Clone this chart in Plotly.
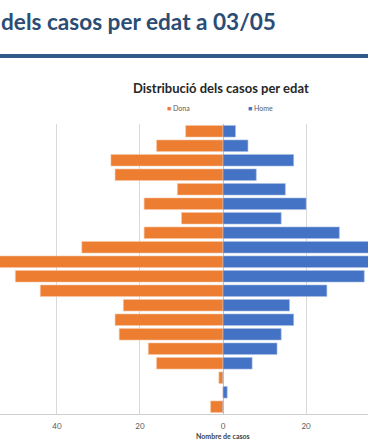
import plotly.graph_objects as go

# Age groups (top of chart = oldest)
age_groups = ["95+", "90-94", "85-89", "80-84", "75-79", "70-74", "65-69", "60-64",
              "55-59", "50-54", "45-49", "40-44", "35-39", "30-34", "25-29", "20-24",
              "15-19", "10-14", "5-9", "0-4"]
dona = [9, 16, 27, 26, 11, 19, 10, 19, 34, 56, 50, 44, 24, 26, 25, 18, 16, 1, 0, 3]
home = [3, 6, 17, 8, 15, 20, 14, 28, 38, 40, 34, 25, 16, 17, 14, 13, 7, 0, 1, 0]
tick_vals = [-60, -40, -20, 0, 20, 40]
tick_text = ["60", "40", "20", "0", "20", "40"]

W, H = 368, 445
TOP, BOT = 124, 414  # plot area in px


def py(px):
    return (BOT - px) / (BOT - TOP)


def pxx(px):
    return px / W


fig = go.Figure()
fig.add_trace(go.Bar(y=age_groups, x=[-v for v in dona], orientation="h", name="Dona",
                     marker=dict(color="#ED7D31", line=dict(color="#f6c9a8", width=0.6))))
fig.add_trace(go.Bar(y=age_groups, x=home, orientation="h", name="Home",
                     marker=dict(color="#4472C4", line=dict(color="#a9bfe6", width=0.6))))

fig.update_layout(
    width=W, height=H,
    margin=dict(l=0, r=0, t=TOP, b=H - BOT, pad=0),
    paper_bgcolor="white", plot_bgcolor="white",
    barmode="relative", bargap=0.2,
    showlegend=False,
    font=dict(family="Lato, 'Open Sans', sans-serif"),
)
fig.update_xaxes(range=[-53.7, 34.9], tickvals=tick_vals, ticktext=tick_text,
                 showgrid=True, gridcolor="#d9d9d9", gridwidth=1,
                 zeroline=True, zerolinecolor="#bfbfbf", zerolinewidth=1,
                 showline=True, linecolor="#d0d0d0", linewidth=1, mirror=False,
                 ticks="", ticklabelstandoff=4,
                 tickfont=dict(size=8, color="#595959"), fixedrange=True)
fig.update_yaxes(categoryorder="array", categoryarray=age_groups, autorange="reversed",
                 showticklabels=False, showgrid=False, zeroline=False, ticks="")

# Slide title (cropped at left) and rule
fig.add_annotation(text="<b>dels casos per edat a 03/05</b>", xref="paper", yref="paper",
                   x=pxx(-1), y=py(22), xanchor="left", yanchor="middle", showarrow=False,
                   font=dict(size=22.6, color="#2b4c74", family="Lato, sans-serif"))
fig.add_shape(type="line", xref="paper", yref="paper", x0=0, x1=1, y0=py(56), y1=py(56),
              line=dict(color="#2e5b8a", width=4))

# Chart title
fig.add_annotation(text="<b>Distribució dels casos per edat</b>", xref="paper", yref="paper",
                   x=pxx(221), y=py(88), xanchor="center", yanchor="middle", showarrow=False,
                   font=dict(size=13, color="#262626"))
# Legend
fig.add_annotation(text="<span style='color:#ED7D31'>■</span> Dona", xref="paper", yref="paper",
                   x=pxx(165), y=py(108), xanchor="left", yanchor="middle", showarrow=False,
                   font=dict(size=7, color="#595959"))
fig.add_annotation(text="<span style='color:#4472C4'>■</span> Home", xref="paper", yref="paper",
                   x=pxx(246), y=py(108), xanchor="left", yanchor="middle", showarrow=False,
                   font=dict(size=7, color="#595959"))
# Axis title
fig.add_annotation(text="<b>Nombre de casos</b>", xref="paper", yref="paper",
                   x=pxx(223), y=py(436), xanchor="center", yanchor="middle", showarrow=False,
                   font=dict(size=7, color="#404040"))

fig.write_html("out.html", config={"displayModeBar": False},
               post_script="document.body.style.margin='0';document.body.style.overflow='hidden';")
